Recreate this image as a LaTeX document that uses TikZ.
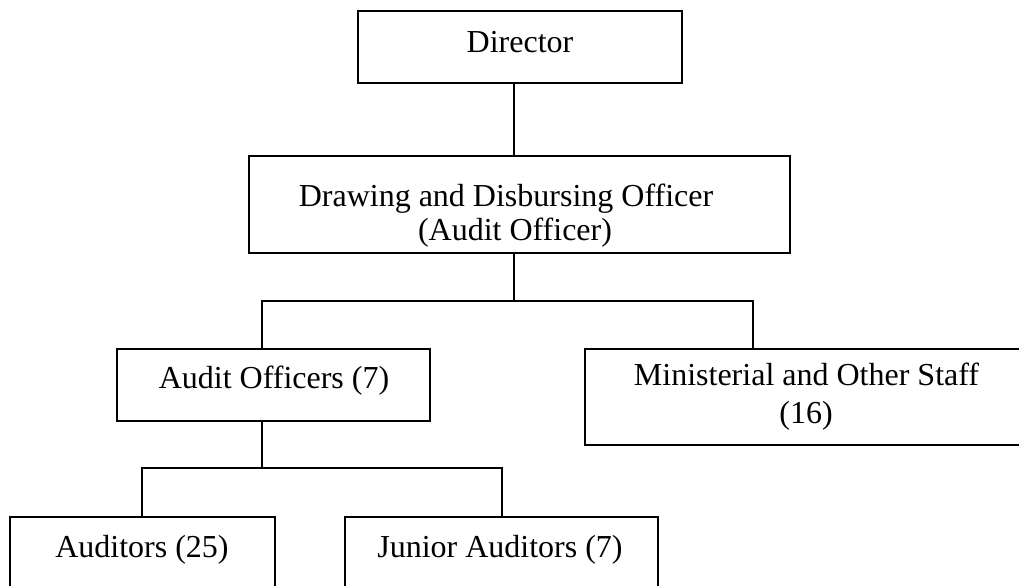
\documentclass[tikz,border=0pt]{standalone}
\usepackage{fontspec}
\setmainfont{Liberation Serif}
\begin{document}
\begin{tikzpicture}[x=0.5pt,y=-0.5pt]
\tikzset{
  box/.style={draw=black, line width=1pt, rectangle, inner sep=0pt},
  openbox/.style={draw=none, rectangle, inner sep=0pt},
  lbl/.style={anchor=base, inner sep=0pt, font=\fontsize{16}{16}\selectfont},
  link/.style={draw=black, line width=1pt}
}
\useasboundingbox[fill=white] (0,0) rectangle (1019,586);

% boxes
\node[box, minimum width=162pt, minimum height=36pt] (dir) at (520,47) {};
\node[box, minimum width=270.5pt, minimum height=48.5pt] (ddo) at (519.5,204.5) {};
\node[box, minimum width=156.5pt, minimum height=36pt] (ao) at (273.5,385) {};
\node[openbox, minimum width=217pt, minimum height=48pt] (mst) at (802,397) {};
\node[openbox, minimum width=132.5pt, minimum height=34.5pt] (aud) at (142.5,551.5) {};
\node[openbox, minimum width=156.5pt, minimum height=34.5pt] (jun) at (501.5,551.5) {};

% open (cut-off) box outlines
\draw[link] (mst.north east) -- (mst.north west) -- (mst.south west) -- (mst.south east);
\draw[link] (aud.south west) -- (aud.north west) -- (aud.north east) -- (aud.south east);
\draw[link] (jun.south west) -- (jun.north west) -- (jun.north east) -- (jun.south east);

% texts
\node[lbl] (dirT) at (520,52) {Director};
\node[lbl] (ddoT1) at (506,206) {Drawing and Disbursing Officer};
\node[lbl] (ddoT2) at (515,240) {(Audit Officer)};
\node[lbl] (aoT) at (274,388) {Audit Officers (7)};
\node[lbl] (mstT1) at (806.5,385) {Ministerial and Other Staff};
\node[lbl] (mstT2) at (806,423) {(16)};
\node[lbl] (audT) at (142,557) {Auditors (25)};
\node[lbl] (junT) at (500,557) {Junior Auditors (7)};

% connectors
\coordinate (t1) at (514,301);
\coordinate (b1l) at (262,301);
\coordinate (b1r) at (753,301);
\coordinate (t2) at (262,468);
\coordinate (b2l) at (142,468);
\coordinate (b2r) at (502,468);
\draw[link] (dir.south -| t1) -- (ddo.north -| t1);
\draw[link] (ddo.south -| t1) -- (t1);
\draw[link] (ao.north -| b1l) -- (b1l) -- (b1r) -- (mst.north -| b1r);
\draw[link] (ao.south -| t2) -- (t2);
\draw[link] (aud.north -| b2l) -- (b2l) -- (b2r) -- (jun.north -| b2r);
\end{tikzpicture}
\end{document}
